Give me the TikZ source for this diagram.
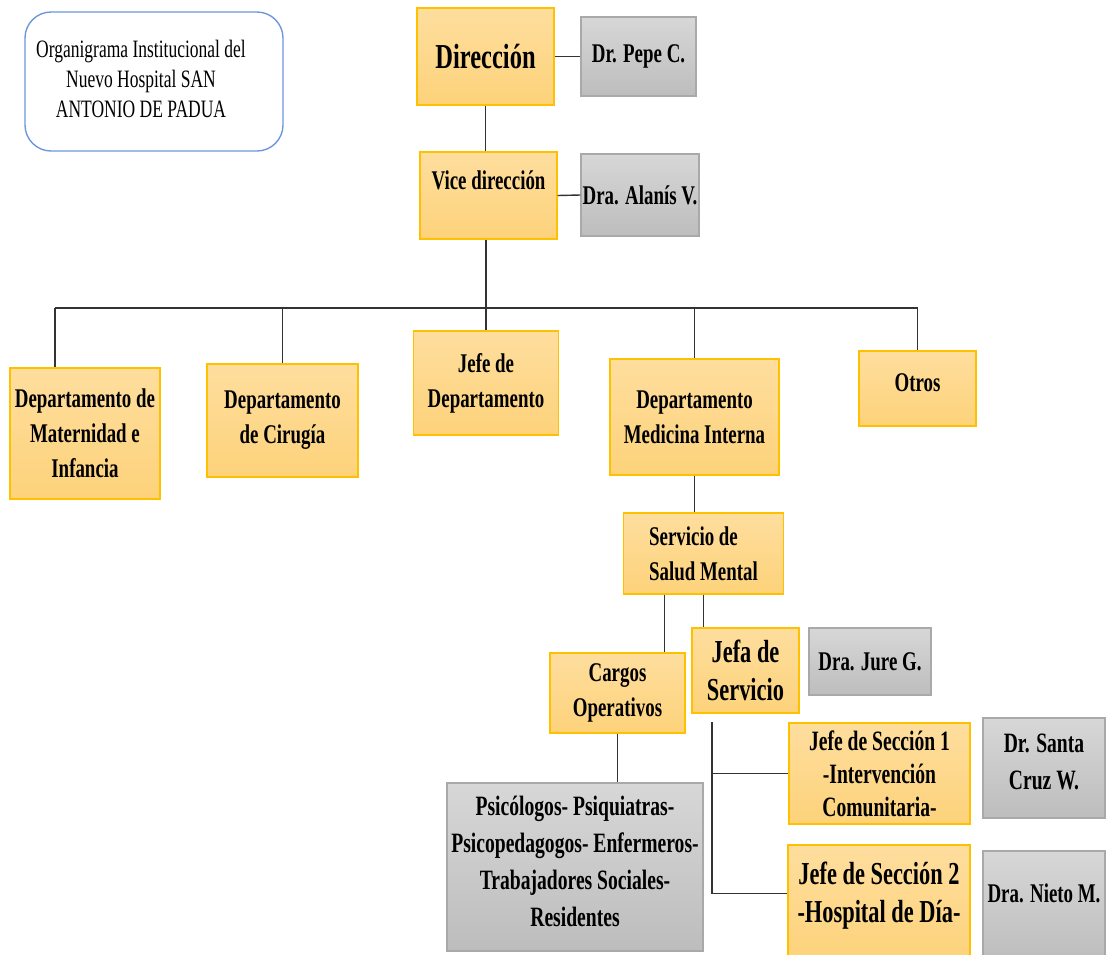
\documentclass[tikz,border=0pt]{standalone}
\usepackage{fontspec}
\setmainfont{Liberation Serif}[FakeStretch=0.7]
\usepackage{tikz}

\definecolor{ambertop}{HTML}{FEDE9E}
\definecolor{amberbot}{HTML}{FDD27A}
\definecolor{amberline}{HTML}{FFC000}
\definecolor{greytop}{HTML}{D7D7D7}
\definecolor{greybot}{HTML}{BDBDBD}
\definecolor{greyline}{HTML}{A9A9A9}
\definecolor{titleline}{HTML}{6F97DC}

\begin{document}
\begin{tikzpicture}[x=1pt, y=-1pt,
    unit/.style={draw=amberline, line width=1.3pt, top color=ambertop, bottom color=amberbot,
        inner sep=0pt, align=center, font=\fontsize{27}{35}\selectfont\bfseries},
    person/.style={unit, draw=greyline, top color=greytop, bottom color=greybot},
    link/.style={draw=black!80, line width=1.4pt}]
        \useasboundingbox (0,0) rectangle (1107,954);

        \node[draw=titleline, line width=1.4pt, rounded corners=26pt, fill=white,
            minimum width=258, minimum height=139, inner sep=0pt,
            font=\fontsize{25}{30}\selectfont] (title) at (154,81.5)
            {\begin{tabular}{@{}c@{}}Organigrama Institucional del\\Nuevo Hospital SAN\\ANTONIO DE PADUA\end{tabular}\hspace*{26pt}};

        \node[unit, minimum width=137, minimum height=97, font=\fontsize{35}{40}\selectfont\bfseries] (dir) at (485.5,56.5) {Dirección};
        \node[person, minimum width=115, minimum height=79] (pepe) at (638.5,56.5) {Dr. Pepe C.};
        \node[unit, minimum width=137, minimum height=87, text depth=31pt] (vice) at (488.5,195.5) {Vice dirección};
        \node[person, minimum width=118, minimum height=82] (alanis) at (640,195) {Dra. Alanís V.};

        \node[unit, minimum width=150, minimum height=131] (mat) at (85,433.5) {Departamento de\\Maternidad e\\Infancia};
        \node[unit, minimum width=151, minimum height=113] (cir) at (282.5,420.5) {Departamento\\de Cirugía};
        \node[unit, minimum width=145, minimum height=104] (jefedep) at (486,383) {Jefe de\\Departamento};
        \node[unit, minimum width=169, minimum height=116] (medint) at (694.5,417) {Departamento\\Medicina Interna};
        \node[unit, minimum width=117, minimum height=75, text depth=11pt] (otros) at (917.5,388.5) {Otros};

        \node[unit, minimum width=160, minimum height=81, align=left] (salud) at (703.5,553.5) {Servicio de\\Salud Mental};
        \node[unit, minimum width=135, minimum height=80] (cargos) at (617.5,693) {Cargos\\Operativos};
        \node[unit, minimum width=107, minimum height=85, font=\fontsize{32}{38}\selectfont\bfseries] (jefa) at (745.5,670.5) {Jefa de\\Servicio};
        \node[person, minimum width=122, minimum height=67] (jure) at (870,661.5) {Dra. Jure G.};

        \node[person, minimum width=256, minimum height=168, text depth=11pt, font=\fontsize{28}{37}\selectfont\bfseries] (psico) at (575,867)
            {Psicólogos- Psiquiatras-\\Psicopedagogos- Enfermeros-\\Trabajadores Sociales-\\Residentes};
        \node[unit, minimum width=181, minimum height=101, font=\fontsize{28}{33}\selectfont\bfseries] (secA) at (879.5,773.5)
            {Jefe de Sección 1\\-Intervención\\Comunitaria-};
        \node[person, minimum width=122, minimum height=100, text depth=13pt, font=\fontsize{28}{37}\selectfont\bfseries] (santa) at (1044,768) {Dr. Santa\\Cruz W.};
        \node[unit, minimum width=182, minimum height=117, text depth=22pt, font=\fontsize{32}{38}\selectfont\bfseries] (secB) at (879,903.5)
            {Jefe de Sección 2\\-Hospital de Día-};
        \node[person, minimum width=122, minimum height=111, text depth=27pt] (nieto) at (1044,906.5) {Dra. Nieto M.};

        \draw[link] (dir.east) -- (pepe.west);
        \draw[link] (vice.east) -- (alanis.west);
        \draw[link] (dir.south) -- (dir.south |- vice.north);

        \coordinate (busl) at (55,308);
        \coordinate (busr) at (917.5,308);
        \draw[link] (busl) -- (busr);
        \draw[link] (jefedep.north |- vice.south) -- (jefedep.north);
        \draw[link] (busl) -- (busl |- mat.north);
        \draw[link] (cir.north |- busl) -- (cir.north);
        \draw[link] (medint.north |- busl) -- (medint.north);
        \draw[link] (otros.north |- busr) -- (otros.north);

        \draw[link] (medint.south) -- (medint.south |- salud.north);
        \draw[link] ([xshift=-39pt]salud.south) -- ([xshift=-39pt]salud.south |- cargos.north);
        \draw[link] (salud.south) -- (salud.south |- jefa.north);
        \draw[link] (cargos.south) -- (cargos.south |- psico.north);

        \coordinate (brk) at (712,722);
        \draw[link] (brk) |- (secA.west);
        \draw[link] (brk) |- ([yshift=10pt]secB.west);
\end{tikzpicture}
\end{document}
